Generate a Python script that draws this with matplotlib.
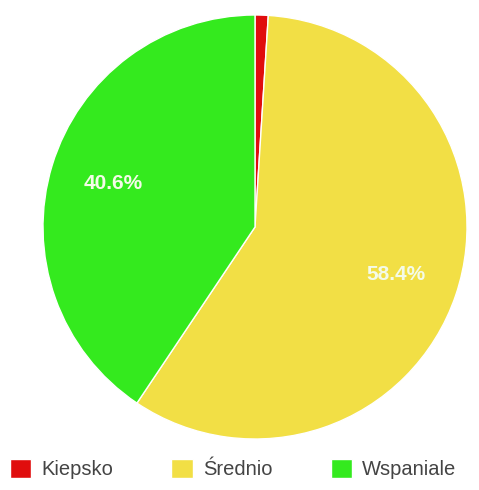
import matplotlib
matplotlib.use('Agg')
import matplotlib.pyplot as plt

plt.rcParams['font.family'] = ['Liberation Sans', 'DejaVu Sans']

labels = ['Kiepsko', 'Średnio', 'Wspaniale']
shares = [1.0, 58.4, 40.6]
colors = ['#e00d0d', '#f2df45', '#34ea1e']

W, H = 479, 490
fig = plt.figure(figsize=(W / 100, H / 100), dpi=100)

# pie centre (255, 227) px, radius ~212 px
cx, cy, r = 255, 227, 212
ax = fig.add_axes([(cx - r) / W, (H - cy - r) / H, 2 * r / W, 2 * r / H])


def pct(v):
    return f'{v:.1f}%' if v >= 5 else ''


wedges, texts, autotexts = ax.pie(
    shares, colors=colors, startangle=90, counterclock=False,
    autopct=pct, pctdistance=0.70,
    wedgeprops=dict(edgecolor='white', linewidth=1),
    textprops=dict(color='#f4fbe8', fontsize=15, fontweight='bold'),
)
ax.set_xlim(-1.0, 1.0)
ax.set_ylim(-1.0, 1.0)
ax.set_aspect('equal')
ax.axis('off')

fig.legend(wedges, labels, loc='center left', bbox_to_anchor=(10 / W, 21 / H),
           ncol=3, frameon=False, fontsize=14.5, handlelength=1.05,
           handleheight=1.05, handletextpad=0.5, columnspacing=2.9,
           borderaxespad=0.0, borderpad=0.0, labelcolor='#444444')

fig.savefig('out.png', dpi=100, facecolor='white')
